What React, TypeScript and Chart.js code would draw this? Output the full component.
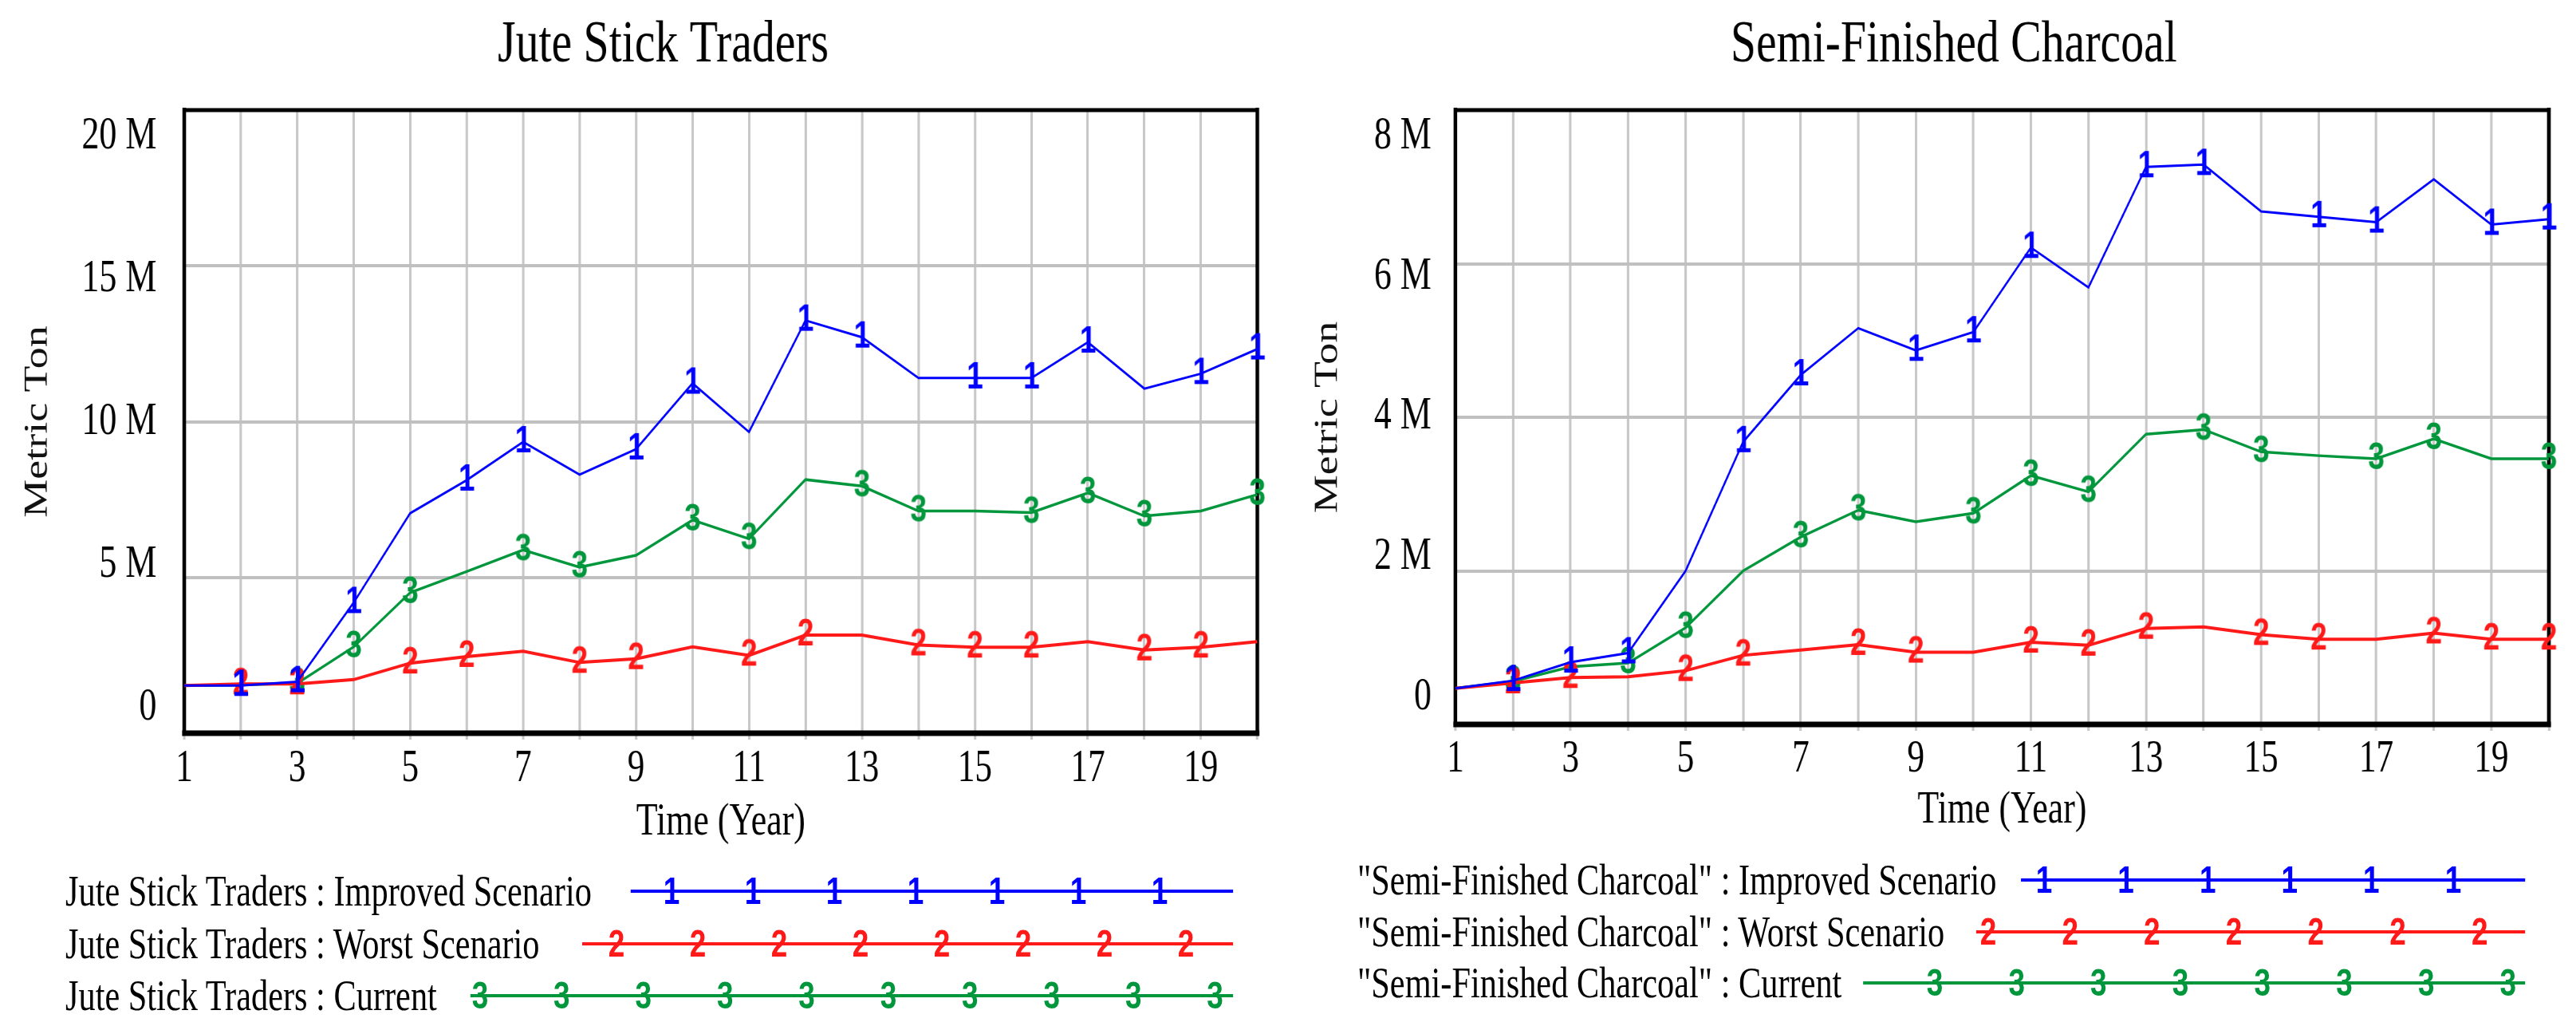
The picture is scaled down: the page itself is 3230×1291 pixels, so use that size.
import React, { useEffect, useRef } from 'react';
import { Chart, registerables } from 'chart.js';

Chart.register(...registerables);

// ---------------- data ----------------
const years = [1, 2, 3, 4, 5, 6, 7, 8, 9, 10, 11, 12, 13, 14, 15, 16, 17, 18, 19, 20];

// Jute Stick Traders (million metric ton)
const juteImproved = [1.53, 1.53, 1.65, 4.19, 7.06, 8.12, 9.35, 8.3, 9.12, 11.23, 9.67, 13.25, 12.71, 11.4, 11.4, 11.4, 12.55, 11.06, 11.54, 12.33];
const juteWorst = [1.53, 1.58, 1.58, 1.72, 2.25, 2.46, 2.63, 2.27, 2.39, 2.77, 2.5, 3.15, 3.15, 2.83, 2.76, 2.76, 2.94, 2.67, 2.76, 2.94];
const juteCurrent = [1.53, 1.55, 1.6, 2.77, 4.51, 5.19, 5.88, 5.33, 5.71, 6.84, 6.24, 8.14, 7.93, 7.13, 7.13, 7.08, 7.71, 6.97, 7.13, 7.66];

// Semi-Finished Charcoal (million metric ton)
const charcoalImproved = [0.47, 0.57, 0.81, 0.93, 2.0, 3.68, 4.55, 5.16, 4.87, 5.11, 6.21, 5.69, 7.26, 7.29, 6.68, 6.61, 6.54, 7.1, 6.51, 6.58];
const charcoalWorst = [0.47, 0.54, 0.61, 0.62, 0.7, 0.9, 0.97, 1.04, 0.94, 0.94, 1.07, 1.03, 1.25, 1.27, 1.17, 1.11, 1.11, 1.19, 1.11, 1.11];
const charcoalCurrent = [0.47, 0.56, 0.75, 0.8, 1.26, 2.0, 2.44, 2.79, 2.64, 2.75, 3.24, 3.03, 3.78, 3.84, 3.55, 3.5, 3.46, 3.72, 3.46, 3.46];

// years on which the run number is printed on each line
const juteImprovedMarks = [2, 3, 4, 6, 7, 9, 10, 12, 13, 15, 16, 17, 19, 20];
const juteWorstMarks = [2, 3, 5, 6, 8, 9, 11, 12, 14, 15, 16, 18, 19];
const juteCurrentMarks = [3, 4, 5, 7, 8, 10, 11, 13, 14, 16, 17, 18, 20];
const charcoalImprovedMarks = [2, 3, 4, 6, 7, 9, 10, 11, 13, 14, 16, 17, 19, 20];
const charcoalWorstMarks = [2, 3, 5, 6, 8, 9, 11, 12, 13, 15, 16, 18, 19, 20];
const charcoalCurrentMarks = [2, 4, 5, 7, 8, 10, 11, 12, 14, 15, 17, 18, 20];

const juteTicks = [0, 5, 10, 15, 20];
const charcoalTicks = [0, 2, 4, 6, 8];

const juteLabels = ['Jute Stick Traders : Improved Scenario', 'Jute Stick Traders : Worst Scenario', 'Jute Stick Traders : Current'];
const charcoalLabels = ['"Semi-Finished Charcoal" : Improved Scenario', '"Semi-Finished Charcoal" : Worst Scenario', '"Semi-Finished Charcoal" : Current'];

// ---------------- style ----------------
const SQ = 0.77; // horizontal squeeze of the whole figure
const PAGE_W = 3230;
const PAGE_H = 1291;
const SERIF = '"Liberation Serif", "Times New Roman", serif';
const MARK_FAMILY = '"Liberation Sans", Arial, sans-serif';
const MARK_SIZE = 48;
const BLUE = '#0000ff';
const RED = '#ff1a1a';
const GREEN = '#00963c';
const u = (x: number) => x / SQ;
const NB = '\u00A0';

Chart.defaults.font.family = SERIF;

function makeMarker(digit: string, color: string): HTMLCanvasElement {
  const c = document.createElement('canvas');
  c.width = 40;
  c.height = 52;
  const ctx = c.getContext('2d')!;
  ctx.font = `bold ${MARK_SIZE}px ${MARK_FAMILY}`;
  ctx.fillStyle = color;
  ctx.textAlign = 'center';
  ctx.textBaseline = 'middle';
  ctx.fillText(digit, 20, 26);
  return c;
}

const framePlugin = {
  id: 'frame',
  beforeDatasetsDraw(chart: any) {
    const { ctx, chartArea } = chart;
    const { left, right, top, bottom } = chartArea;
    ctx.save();
    ctx.strokeStyle = '#000';
    ctx.lineCap = 'square';
    const seg = (x0: number, y0: number, x1: number, y1: number, w: number) => {
      ctx.lineWidth = w;
      ctx.beginPath();
      ctx.moveTo(x0, y0);
      ctx.lineTo(x1, y1);
      ctx.stroke();
    };
    seg(left, top, right, top, 5);
    seg(left, bottom, right, bottom, 7);
    seg(left, top, left, bottom, 6);
    seg(right, top, right, bottom, 6);
    ctx.restore();
  },
};

type Series = { label: string; data: number[]; marks: number[]; color: string; digit: string; width: number };
type Layout = {
  canvasW: number; canvasH: number; yAxisW: number; padR: number; padB: number; xAxisH: number;
  yTitlePad: number; yTickPad: number; xTickPad: number; labelTopInset: number; labelBottomInset: number;
  titleShift: number;
};

function buildConfig(title: string, ticks: number[], series: Series[], L: Layout): any {
  const yMin = ticks[0];
  const yMax = ticks[ticks.length - 1];
  // Vensim prints the value labels inside a slightly narrower band than the plot frame
  const span = (yMax - yMin) / (1 - L.labelTopInset - L.labelBottomInset);
  const lblMin = yMin - L.labelBottomInset * span;
  const lblMax = lblMin + span;
  return {
    type: 'line',
    data: {
      datasets: series.map((s) => {
        const marker = makeMarker(s.digit, s.color);
        return {
          label: s.label,
          data: years.map((yr, i) => ({ x: yr, y: s.data[i] })),
          yAxisID: 'y',
          borderColor: s.color,
          backgroundColor: s.color,
          borderWidth: s.width,
          fill: false,
          tension: 0,
          clip: false,
          pointStyle: marker,
          pointRadius: (ctx: any) => (s.marks.includes(years[ctx.dataIndex]) ? 4 : 0),
          pointHoverRadius: 0,
        };
      }),
    },
    options: {
      responsive: false,
      animation: false,
      events: [],
      layout: { padding: { left: 0, top: 0, right: L.padR, bottom: L.padB } },
      plugins: {
        legend: { display: false },
        tooltip: { enabled: false },
        title: {
          display: true,
          text: NB.repeat(L.titleShift) + title,
          color: '#000',
          font: { family: SERIF, size: 75, weight: 'normal' },
          padding: { top: 12, bottom: 36 },
        },
      },
      scales: {
        x: {
          type: 'linear',
          min: years[0],
          max: years[years.length - 1],
          afterFit: (a: any) => {
            a.height = L.xAxisH;
          },
          ticks: {
            stepSize: 1,
            autoSkip: false,
            maxRotation: 0,
            color: '#000',
            padding: L.xTickPad,
            font: { family: SERIF, size: 56 },
            callback: (v: any) => {
              const n = Math.round(Number(v));
              return n % 2 === 1 ? String(n) : '';
            },
          },
          grid: { color: '#c8c8c8', lineWidth: 4, drawTicks: true, tickLength: 8, tickColor: '#c8c8c8' },
          border: { display: false },
          title: {
            display: true,
            text: 'Time (Year)',
            color: '#000',
            font: { family: SERIF, size: 57 },
            padding: { top: 0, bottom: 0 },
          },
        },
        y: {
          position: 'left',
          min: yMin,
          max: yMax,
          afterFit: (a: any) => {
            a.width = 0;
          },
          afterBuildTicks: (a: any) => {
            a.ticks = ticks.map((v) => ({ value: v }));
          },
          ticks: { display: false },
          grid: { color: '#c0c0c0', lineWidth: 4, drawTicks: false },
          border: { display: false },
        },
        yLabels: {
          type: 'linear',
          position: 'left',
          min: lblMin,
          max: lblMax,
          afterFit: (a: any) => {
            a.width = L.yAxisW;
          },
          afterBuildTicks: (a: any) => {
            a.ticks = ticks.map((v) => ({ value: v }));
          },
          ticks: {
            color: '#000',
            padding: L.yTickPad,
            font: { family: SERIF, size: 57 },
            callback: (v: any) => (Number(v) === 0 ? '0' : `${v} M`),
          },
          grid: { display: false, drawTicks: false },
          border: { display: false },
          title: {
            display: true,
            text: 'Metric Ton',
            color: '#111',
            font: { family: SERIF, size: 54 },
            padding: { top: L.yTitlePad, bottom: 0 },
          },
        },
      },
    },
    plugins: [framePlugin],
  };
}

const leftLayout: Layout = {
  canvasW: 2158, canvasH: 1080, yAxisW: 300, padR: 110.6, padB: 15, xAxisH: 146,
  yTitlePad: 29, yTickPad: 45, xTickPad: 4, labelTopInset: 0.0423, labelBottomInset: 0.041, titleShift: 6,
};
const rightLayout: Layout = {
  canvasW: 2161, canvasH: 1080, yAxisW: 270, padR: 110.4, padB: 30, xAxisH: 142,
  yTitlePad: 30, yTickPad: 39, xTickPad: 3, labelTopInset: 0.0429, labelBottomInset: 0.0442, titleShift: 6,
};

type LegendRowSpec = {
  text: string; color: string; digit: string; textX: number; lineY: number;
  lineX0: number; lineX1: number; markX0: number; markStep: number; markCount: number;
};

function LegendRow({ r }: { r: LegendRowSpec }) {
  const marks: number[] = [];
  for (let k = 0; k < r.markCount; k++) marks.push(r.markX0 + k * r.markStep);
  return (
    <>
      <span
        style={{
          position: 'absolute', left: u(r.textX), top: r.lineY - 28, fontFamily: SERIF,
          fontSize: 55, lineHeight: '55px', whiteSpace: 'nowrap', color: '#000',
        }}
      >
        {r.text}
      </span>
      <div
        style={{
          position: 'absolute', left: u(r.lineX0), top: r.lineY - 2, width: u(r.lineX1) - u(r.lineX0),
          height: 4, background: r.color,
        }}
      />
      {marks.map((m, i) => (
        <span
          key={i}
          style={{
            position: 'absolute', left: u(m) - 20, width: 40, top: r.lineY - 26, height: 52,
            lineHeight: '52px', textAlign: 'center', fontFamily: MARK_FAMILY, fontWeight: 'bold',
            fontSize: MARK_SIZE, color: r.color,
          }}
        >
          {r.digit}
        </span>
      ))}
    </>
  );
}

const leftLegend: LegendRowSpec[] = [
  { text: juteLabels[0], color: BLUE, digit: '1', textX: 82, lineY: 1117, lineX0: 791, lineX1: 1546, markX0: 842, markStep: 102, markCount: 7 },
  { text: juteLabels[1], color: RED, digit: '2', textX: 82, lineY: 1183, lineX0: 730, lineX1: 1546, markX0: 773, markStep: 102, markCount: 8 },
  { text: juteLabels[2], color: GREEN, digit: '3', textX: 82, lineY: 1248, lineX0: 590, lineX1: 1546, markX0: 602, markStep: 102.4, markCount: 10 },
];
const rightLegend: LegendRowSpec[] = [
  { text: charcoalLabels[0], color: BLUE, digit: '1', textX: 1702, lineY: 1103, lineX0: 2534, lineX1: 3166, markX0: 2563, markStep: 102.6, markCount: 6 },
  { text: charcoalLabels[1], color: RED, digit: '2', textX: 1702, lineY: 1168, lineX0: 2478, lineX1: 3166, markX0: 2493, markStep: 102.7, markCount: 7 },
  { text: charcoalLabels[2], color: GREEN, digit: '3', textX: 1702, lineY: 1232, lineX0: 2336, lineX1: 3166, markX0: 2426, markStep: 102.7, markCount: 8 },
];

export default function App() {
  const leftRef = useRef<HTMLCanvasElement | null>(null);
  const rightRef = useRef<HTMLCanvasElement | null>(null);

  useEffect(() => {
    const leftSeries: Series[] = [
      { label: juteLabels[0], data: juteImproved, marks: juteImprovedMarks, color: BLUE, digit: '1', width: 3 },
      { label: juteLabels[1], data: juteWorst, marks: juteWorstMarks, color: RED, digit: '2', width: 4 },
      { label: juteLabels[2], data: juteCurrent, marks: juteCurrentMarks, color: GREEN, digit: '3', width: 3.5 },
    ];
    const rightSeries: Series[] = [
      { label: charcoalLabels[0], data: charcoalImproved, marks: charcoalImprovedMarks, color: BLUE, digit: '1', width: 3 },
      { label: charcoalLabels[1], data: charcoalWorst, marks: charcoalWorstMarks, color: RED, digit: '2', width: 4 },
      { label: charcoalLabels[2], data: charcoalCurrent, marks: charcoalCurrentMarks, color: GREEN, digit: '3', width: 3.5 },
    ];
    const c1 = new Chart(leftRef.current!, buildConfig('Jute Stick Traders', juteTicks, leftSeries, leftLayout));
    const c2 = new Chart(rightRef.current!, buildConfig('Semi-Finished Charcoal', charcoalTicks, rightSeries, rightLayout));
    return () => {
      c1.destroy();
      c2.destroy();
    };
  }, []);

  return (
    <div style={{ position: 'fixed', left: 0, top: 0, width: PAGE_W, height: PAGE_H, overflow: 'hidden', background: '#fff' }}>
      <div
        style={{
          position: 'absolute', left: 0, top: 0, width: u(PAGE_W), height: PAGE_H,
          transform: `scaleX(${SQ})`, transformOrigin: '0 0',
        }}
      >
        <canvas
          ref={leftRef}
          width={leftLayout.canvasW}
          height={leftLayout.canvasH}
          style={{ position: 'absolute', left: 0, top: 0, width: leftLayout.canvasW, height: leftLayout.canvasH }}
        />
        <canvas
          ref={rightRef}
          width={rightLayout.canvasW}
          height={rightLayout.canvasH}
          style={{ position: 'absolute', left: 2100, top: 0, width: rightLayout.canvasW, height: rightLayout.canvasH }}
        />
        {leftLegend.map((r, i) => (
          <LegendRow key={'l' + i} r={r} />
        ))}
        {rightLegend.map((r, i) => (
          <LegendRow key={'r' + i} r={r} />
        ))}
      </div>
    </div>
  );
}
